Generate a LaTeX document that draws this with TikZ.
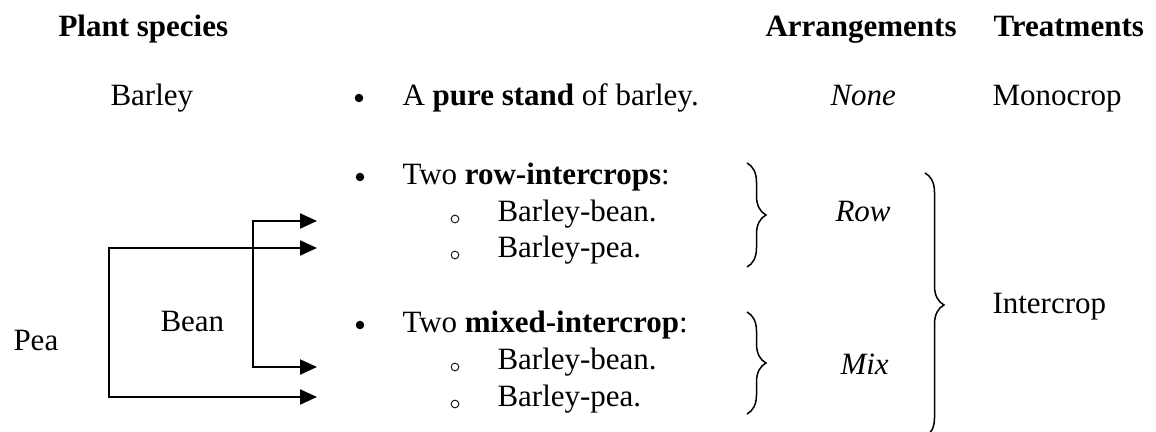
\documentclass[tikz,border=0pt]{standalone}
\usepackage{fontspec}
\setmainfont{Liberation Serif}
\usetikzlibrary{arrows.meta,decorations.pathreplacing}
\tikzset{
  txt/.style={anchor=base west, inner sep=0pt, font=\fontsize{12.4}{15}\selectfont},
  hdr/.style={txt, font=\fontsize{12.4}{15}\selectfont\bfseries},
  bul/.style={circle, fill=black, inner sep=0pt, minimum size=3.4pt},
  sub/.style={circle, draw=black, line width=0.35pt, inner sep=0pt, minimum size=3.1pt},
  conn/.style={line width=0.8pt, {Triangle[length=6.8pt,width=6pt]}-{Triangle[length=6.8pt,width=6pt]}},
  brc/.style={line width=0.6pt, decorate, decoration={brace, amplitude=7.6pt}}
}
\begin{document}
\begin{tikzpicture}[x=0.4pt,y=-0.4pt]
\useasboundingbox (0,0) rectangle (1156,432);
% headers
\node[hdr] (hPlant) at (58,37) {Plant species};
\node[hdr] (hArr) at (765,37) {Arrangements};
\node[hdr] (hTreat) at (993,37) {Treatments};
% row 1
\node[txt] (barley) at (110,106) {Barley};
\node[bul] (b1) at (359,98) {};
\node[txt] (pure) at (402,106) {A \textbf{pure stand} of barley.};
\node[txt] (none) at (830,106) {\itshape None};
\node[txt] (mono) at (992,106) {Monocrop};
% row intercrops
\node[bul] (b2) at (360,177) {};
\node[txt] (rowh) at (402,185) {Two \textbf{row-intercrops}:};
\node[sub] (s1) at (455,219) {};
\node[txt] (r1) at (497,222) {Barley-bean.};
\node[sub] (s2) at (455,255) {};
\node[txt] (r2) at (497,258) {Barley-pea.};
% mixed intercrops
\node[bul] (b3) at (360,325) {};
\node[txt] (mixh) at (402,333) {Two \textbf{mixed-intercrop}:};
\node[sub] (s3) at (455,367) {};
\node[txt] (m1) at (497,370) {Barley-bean.};
\node[sub] (s4) at (455,404) {};
\node[txt] (m2) at (497,407) {Barley-pea.};
% arrangements
\node[txt] (row) at (835,222) {\itshape Row};
\node[txt] (mix) at (840,375) {\itshape Mix};
\node[txt] (inter) at (992,314) {Intercrop};
% species
\node[txt] (pea) at (13,351) {Pea};
\node[txt] (bean) at (160,332) {Bean};
% braces
\coordinate (br1t) at (747,163); \coordinate (br1b) at (747,267);
\coordinate (br2t) at (747,312); \coordinate (br2b) at (747,414);
\coordinate (br3t) at (925,173); \coordinate (br3b) at (925,437);
\draw[brc] (br1t) -- (br1b);
\draw[brc] (br2t) -- (br2b);
\draw[brc] (br3t) -- (br3b);
% connectors
\coordinate (pT) at (109,248); \coordinate (pB) at (109,397);
\coordinate (nT) at (253,221); \coordinate (nB) at (253,367);
\coordinate (t1) at (317,221); \coordinate (t2) at (317,248);
\coordinate (t3) at (317,367); \coordinate (t4) at (317,397);
\draw[conn] (t2) -- (pT) -- (pB) -- (t4);
\draw[conn] (t1) -- (nT) -- (nB) -- (t3);
\end{tikzpicture}
\end{document}
